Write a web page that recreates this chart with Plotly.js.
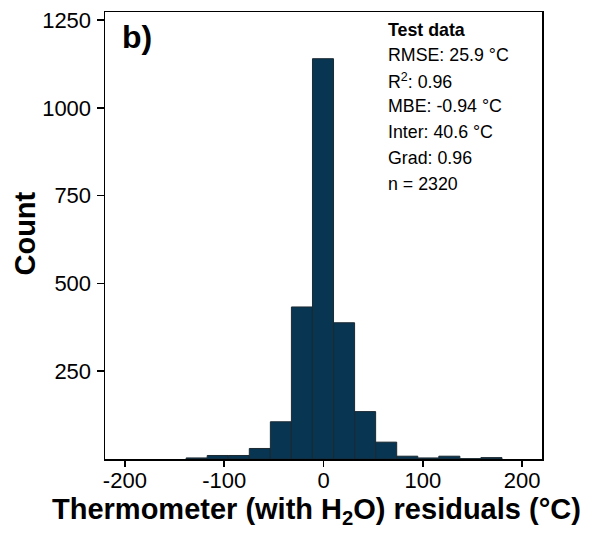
<!DOCTYPE html>
<html>
<head>
<meta charset="utf-8">
<script src="https://cdn.plot.ly/plotly-3.0.1.min.js"></script>
<style>html,body{margin:0;padding:0;background:#fff;}#chart{width:589px;height:539px;}</style>
</head>
<body>
<div id="chart"></div>
<script>
// Histogram bins (centres, °C) and counts
const binCenters = [-127.7, -106.5, -85.3, -64.1, -42.9, -21.7, -0.5, 20.7, 41.9, 63.1, 84.3, 105.5, 126.7, 147.9, 169.1];
const binWidth = 21.2;
const counts = [3, 10, 10, 30, 106, 433, 1140, 388, 135, 48, 8, 3, 8, 1, 4];
const xTicks = [-200, -100, 0, 100, 200];
const yTicks = [250, 500, 750, 1000, 1250];
const xTitle = '<b>Thermometer (with H<sub>2</sub>O) residuals (°C)</b>';
const yTitle = '<b>Count</b>';
const statsLines = ["<b>Test data</b>", "RMSE: 25.9 °C", "R<sup>2</sup>: 0.96", "MBE: -0.94 °C", "Inter: 40.6 °C", "Grad: 0.96", "n = 2320"];
const statsY = [0.9596, 0.9036, 0.8453, 0.7892, 0.7309, 0.6726, 0.6143];

const font = "Liberation Sans, Arial, sans-serif";

const trace = {
  type: 'bar',
  x: binCenters,
  y: counts,
  width: binWidth,
  marker: {color: '#073552', line: {color: '#1c2a33', width: 1}},
  hoverinfo: 'x+y'
};

const annotations = statsLines.map((t, i) => ({
  text: t, xref: 'paper', yref: 'paper', x: 0.643, y: statsY[i],
  xanchor: 'left', yanchor: 'middle', showarrow: false,
  font: {family: font, size: 17.8, color: '#000'}
}));
annotations.push({
  text: '<b>b)</b>', xref: 'paper', yref: 'paper', x: 0.034, y: 0.944,
  xanchor: 'left', yanchor: 'middle', showarrow: false,
  font: {family: font, size: 32, color: '#000'}
});
// axis titles
annotations.push({
  text: xTitle, xref: 'paper', yref: 'paper', x: 0.485, y: -0.117,
  xanchor: 'center', yanchor: 'middle', showarrow: false,
  font: {family: font, size: 29, color: '#000'}
});
annotations.push({
  text: yTitle, xref: 'paper', yref: 'paper', x: -0.183, y: 0.5045,
  xanchor: 'center', yanchor: 'middle', showarrow: false, textangle: -90,
  font: {family: font, size: 29, color: '#000'}
});

const layout = {
  width: 589, height: 539,
  margin: {l: 105, r: 47, t: 12, b: 80},
  paper_bgcolor: '#fff', plot_bgcolor: '#fff',
  bargap: 0, showlegend: false,
  font: {family: font, color: '#000'},
  xaxis: {
    range: [-220, 220], tickvals: xTicks, ticktext: xTicks.map(String),
    ticks: 'outside', ticklen: 6, tickwidth: 1.5, tickcolor: '#000',
    ticklabelstandoff: -5,
    showline: true, linecolor: '#000', linewidth: 1.5, mirror: true,
    showgrid: false, zeroline: false,
    tickfont: {family: font, size: 22, color: '#000'}
  },
  yaxis: {
    range: [0, 1273], tickvals: yTicks, ticktext: yTicks.map(String),
    ticks: 'outside', ticklen: 7, tickwidth: 1.5, tickcolor: '#000',
    ticklabelstandoff: 1,
    showline: true, linecolor: '#000', linewidth: 1.5, mirror: true,
    showgrid: false, zeroline: false,
    tickfont: {family: font, size: 22, color: '#000'}
  },
  annotations: annotations
};

Plotly.newPlot('chart', [trace], layout, {displayModeBar: false, staticPlot: true});
</script>
</body>
</html>
